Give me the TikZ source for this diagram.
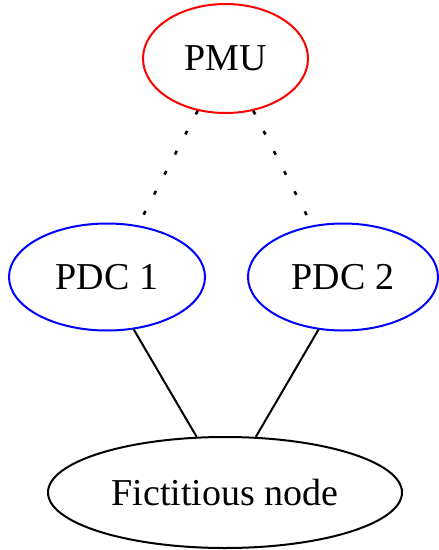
\documentclass[tikz,border=0pt]{standalone}
\usepackage{fontspec}
\setmainfont{Liberation Serif}
\usetikzlibrary{shapes.geometric}
\begin{document}
\begin{tikzpicture}[x=1pt,y=-1pt,
  ell/.style={ellipse,draw,line width=2pt,inner sep=0pt,font=\fontsize{38}{45}\selectfont},
  dotline/.style={line width=2.6pt,dash pattern=on 4pt off 18.6pt},
  solidline/.style={line width=2pt}]
\useasboundingbox (0,0) rectangle (439,550);
\node[ell,draw=red,minimum width=165pt,minimum height=109pt] (pmu) at (225.5,58.5) {PMU};
\node[ell,draw=blue,minimum width=196pt,minimum height=107pt] (pdc1) at (107,277) {PDC 1};
\node[ell,draw=blue,minimum width=190pt,minimum height=107pt] (pdc2) at (343,277) {PDC 2};
\node[ell,draw=black,minimum width=354pt,minimum height=111pt] (fict) at (225,492.5) {Fictitious node};
\draw[dotline] (pmu.242) -- (pdc1.59);
\draw[dotline] (pmu.298) -- (pdc2.121);
\draw[solidline] (pdc1.297) -- (fict.117);
\draw[solidline] (pdc2.245) -- (fict.61);
\end{tikzpicture}
\end{document}
